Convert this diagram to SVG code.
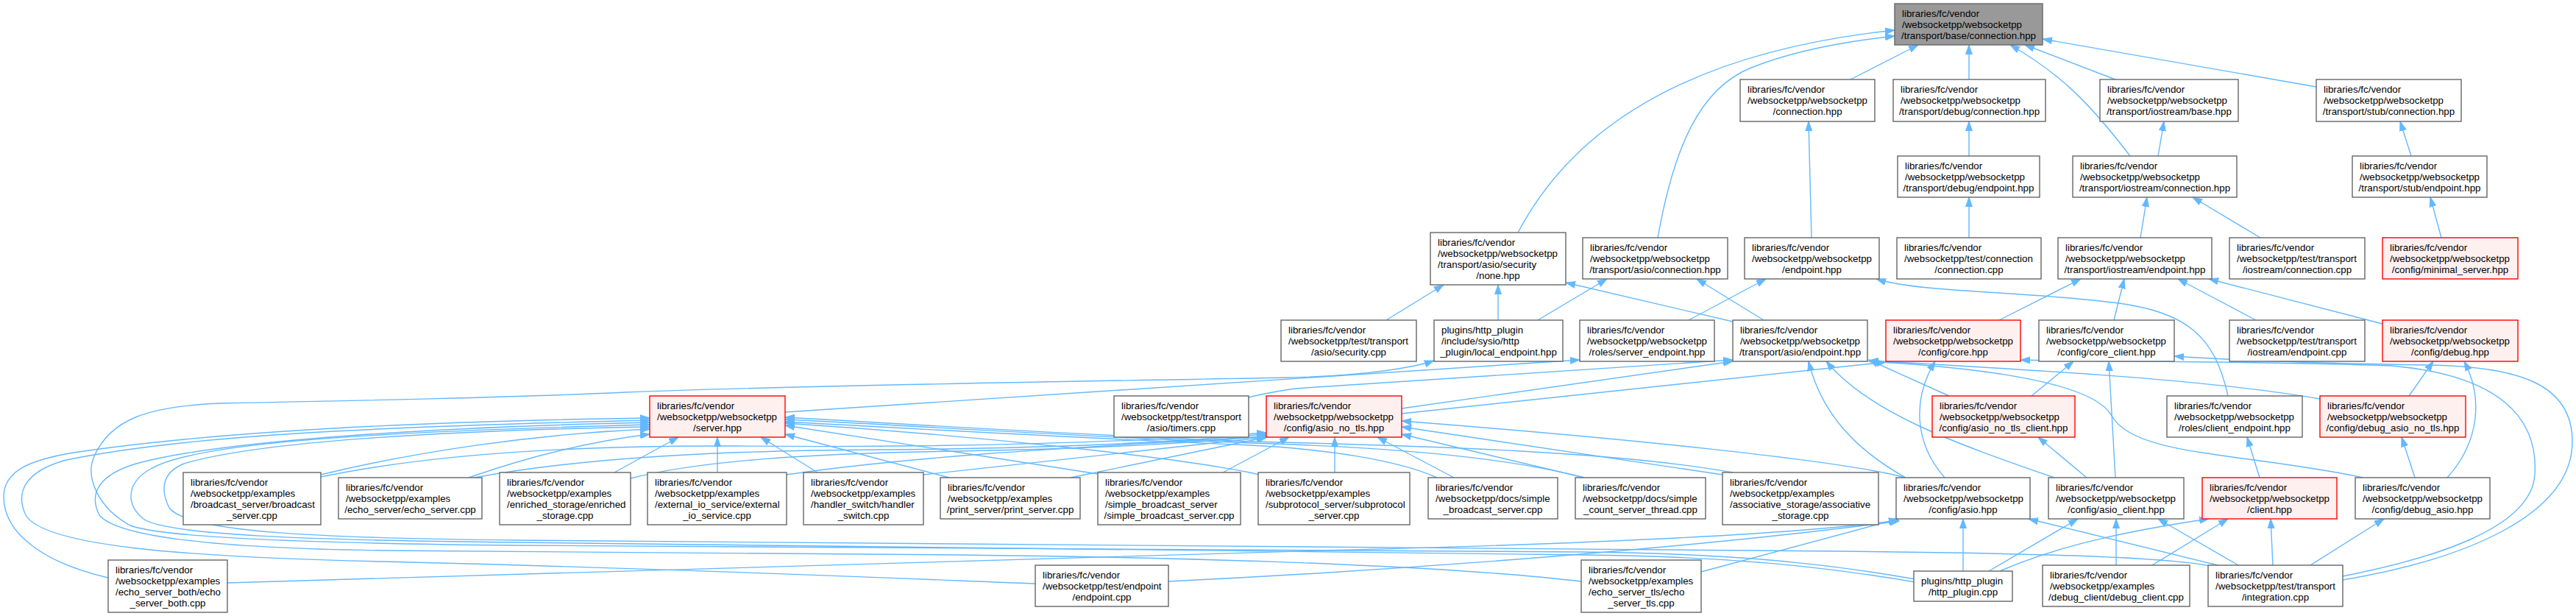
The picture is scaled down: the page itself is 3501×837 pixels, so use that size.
<svg xmlns="http://www.w3.org/2000/svg" width="3501" height="837" viewBox="0 0 3501 837">
<style>
.node rect{fill:#fff;stroke:#666;stroke-width:1.4}
.node.red rect{fill:#fff0f0;stroke:#f00}
.node.root rect{fill:#999;stroke:#666}
.node text{font-family:"Liberation Sans",Arial,Helvetica,sans-serif;font-size:13.33px;fill:#000}
.c{text-anchor:middle}
.edges path{fill:none;stroke:#63b8ff;stroke-width:1.4;marker-end:url(#ah)}
</style>
<defs>
<marker id="ah" markerUnits="userSpaceOnUse" markerWidth="14" markerHeight="10" viewBox="0 0 14 10" refX="13" refY="5" orient="auto"><path d="M0,0.5 L13,5 L0,9.5 z" fill="#63b8ff" stroke="#63b8ff" stroke-width="1"/></marker>
</defs>
<rect width="3501" height="837" fill="#fff"/>
<g class="edges">
<path d="M2063,316 C2140,170 2300,70 2575,41"/>
<path d="M2253,323 C2275,200 2310,120 2380,92 C2440,68 2510,56 2575,49"/>
<path d="M2515,108 L2607,61"/>
<path d="M2676,108 L2676,61"/>
<path d="M2875,108 L2752,61"/>
<path d="M2895,212 C2840,140 2800,100 2732,61"/>
<path d="M3148,118 L2776,53"/>
<path d="M2462,323 L2458,165"/>
<path d="M2676,212 L2676,165"/>
<path d="M2933,212 L2941,165"/>
<path d="M3277,212 L3262,165"/>
<path d="M2676,323 L2676,268"/>
<path d="M2909,323 L2918,268"/>
<path d="M3072,323 L2980,268"/>
<path d="M3318,323 L3303,268"/>
<path d="M1884,435 L1962,387"/>
<path d="M2036,435 L2036,387"/>
<path d="M2090,435 L2184,379"/>
<path d="M2355,437 L2128,384"/>
<path d="M2397,435 L2306,379"/>
<path d="M2295,435 L2400,379"/>
<path d="M3028,538 C3010,455 2970,425 2880,412 C2750,395 2610,398 2550,379"/>
<path d="M2717,435 L2828,379"/>
<path d="M2873,435 L2887,379"/>
<path d="M3066,435 L2960,379"/>
<path d="M3238,440 L3002,379"/>
<path d="M1067,560 C1500,530 1900,505 2147,489"/>
<path d="M1697,540 C1720,534 1740,531 1760,528 L2355,489"/>
<path d="M1905,555 L2355,491"/>
<path d="M1905,562 C2200,532 2450,505 2563,492"/>
<path d="M2590,649 C2520,610 2475,560 2458,491"/>
<path d="M2792,649 C2650,600 2540,560 2482,491"/>
<path d="M2643,649 C2600,600 2600,540 2630,491"/>
<path d="M2649,538 L2540,489"/>
<path d="M2761,538 L2818,491"/>
<path d="M3153,542 C3000,515 2750,502 2540,490"/>
<path d="M3212,649 C3050,615 2900,620 2870,565 C2845,520 2700,500 2540,491"/>
<path d="M3274,538 L3307,491"/>
<path d="M3326,649 C3370,600 3375,540 3349,491"/>
<path d="M3282,649 L3264,594"/>
<path d="M3071,649 L3054,594"/>
<path d="M2836,649 L2770,594"/>
<path d="M2875,649 L2866,491"/>
<path d="M3184,783 C3300,760 3440,720 3445,645 C3450,570 3400,510 3250,497 C3050,490 2850,492 2746,489"/>
<path d="M3184,788 C3350,760 3496,700 3496,600 C3496,520 3420,498 3300,496 C3150,494 3050,490 2955,484"/>
<path d="M2668,776 L2668,705"/>
<path d="M2703,776 L2824,705"/>
<path d="M2718,776 C2800,740 2900,720 3002,705"/>
<path d="M2876,768 L2876,705"/>
<path d="M2925,768 L3028,705"/>
<path d="M3014,768 L2757,705"/>
<path d="M3042,768 L2933,705"/>
<path d="M3089,768 L3086,705"/>
<path d="M3140,768 L3240,705"/>
<path d="M2312,777 L2580,705"/>
<path d="M309,792 C900,775 1400,760 1800,748 C2200,738 2450,725 2580,707"/>
<path d="M1588,790 C1900,775 2300,745 2581,708"/>
<path d="M147,785 C60,765 5,725 5,675 C5,640 40,625 100,615 C300,585 600,572 883,568"/>
<path d="M1407,793 C1200,785 900,772 520,763 C250,757 60,742 35,700 C20,668 35,640 90,625 C250,592 500,580 883,571"/>
<path d="M2149,790 C2000,772 1700,758 1300,754 L520,748 C300,745 160,730 135,700 C120,670 135,645 185,630 C300,598 600,580 883,574"/>
<path d="M2603,787 C2480,765 2350,752 2150,750 L700,741 C400,738 210,730 175,713 C135,690 115,650 128,620 C150,570 200,552 300,548 C500,544 700,540 850,533 C1100,523 1500,518 1750,513 C1850,511 1920,500 1949,490"/>
<path d="M2603,791 C2480,770 2350,756 2150,754 L700,737 C420,734 225,727 195,705 C170,685 172,655 205,637 C260,605 450,588 883,577"/>
<path d="M3003,769 C2950,758 2800,752 2500,749 L700,734 C440,731 255,724 230,690 C215,660 225,640 250,630 C350,600 600,585 883,580"/>
<path d="M436,645 C560,615 720,590 883,583"/>
<path d="M436,648 C600,614 800,605 1000,606 C1300,609 1550,600 1721,588"/>
<path d="M637,649 C720,620 800,600 883,590"/>
<path d="M645,649 C800,620 1000,612 1200,611 C1450,609 1600,600 1721,590"/>
<path d="M835,642 L922,594"/>
<path d="M857,650 C950,626 1100,616 1300,613 C1500,610 1650,600 1721,592"/>
<path d="M975,642 L975,594"/>
<path d="M1069,645 C1250,618 1500,606 1721,593"/>
<path d="M1111,642 L1034,594"/>
<path d="M1255,645 L1721,594"/>
<path d="M1290,649 L1067,590"/>
<path d="M1455,649 L1722,594"/>
<path d="M1492,644 L1067,578"/>
<path d="M1662,642 L1752,594"/>
<path d="M1712,645 C1600,620 1300,590 1067,575"/>
<path d="M1814,642 L1814,594"/>
<path d="M1953,649 C1900,625 1800,610 1700,605 C1400,592 1200,580 1067,573"/>
<path d="M1976,649 L1872,594"/>
<path d="M2153,649 C2050,622 1900,608 1700,602 C1400,590 1200,576 1067,570"/>
<path d="M2153,649 L1905,590"/>
<path d="M2355,642 C2200,614 1950,606 1700,600 C1400,588 1200,574 1067,567"/>
<path d="M2341,645 L1905,580"/>
<path d="M2590,649 C2500,625 2200,595 1905,572"/>
</g>
<g id="n0" class="node root"><rect x="2575" y="5" width="201" height="56"/><text><tspan x="2585" y="23">libraries/fc/vendor</tspan><tspan x="2585" y="38">/websocketpp/websocketpp</tspan><tspan class="c" x="2675.5" y="53">/transport/base/connection.hpp</tspan></text></g>
<g id="n1" class="node"><rect x="2365" y="108" width="183" height="57"/><text><tspan x="2375" y="126">libraries/fc/vendor</tspan><tspan x="2375" y="141">/websocketpp/websocketpp</tspan><tspan class="c" x="2456.5" y="156">/connection.hpp</tspan></text></g>
<g id="n2" class="node"><rect x="2573" y="108" width="207" height="57"/><text><tspan x="2583" y="126">libraries/fc/vendor</tspan><tspan x="2583" y="141">/websocketpp/websocketpp</tspan><tspan class="c" x="2676.5" y="156">/transport/debug/connection.hpp</tspan></text></g>
<g id="n3" class="node"><rect x="2854" y="108" width="188" height="57"/><text><tspan x="2864" y="126">libraries/fc/vendor</tspan><tspan x="2864" y="141">/websocketpp/websocketpp</tspan><tspan class="c" x="2948" y="156">/transport/iostream/base.hpp</tspan></text></g>
<g id="n4" class="node"><rect x="3148" y="108" width="197" height="57"/><text><tspan x="3158" y="126">libraries/fc/vendor</tspan><tspan x="3158" y="141">/websocketpp/websocketpp</tspan><tspan class="c" x="3246.5" y="156">/transport/stub/connection.hpp</tspan></text></g>
<g id="n5" class="node"><rect x="2579" y="212" width="193" height="56"/><text><tspan x="2589" y="230">libraries/fc/vendor</tspan><tspan x="2589" y="245">/websocketpp/websocketpp</tspan><tspan class="c" x="2675.5" y="260">/transport/debug/endpoint.hpp</tspan></text></g>
<g id="n6" class="node"><rect x="2817" y="212" width="223" height="56"/><text><tspan x="2827" y="230">libraries/fc/vendor</tspan><tspan x="2827" y="245">/websocketpp/websocketpp</tspan><tspan class="c" x="2928.5" y="260">/transport/iostream/connection.hpp</tspan></text></g>
<g id="n7" class="node"><rect x="3197" y="212" width="183" height="56"/><text><tspan x="3207" y="230">libraries/fc/vendor</tspan><tspan x="3207" y="245">/websocketpp/websocketpp</tspan><tspan class="c" x="3288.5" y="260">/transport/stub/endpoint.hpp</tspan></text></g>
<g id="n8" class="node"><rect x="1944" y="316" width="184" height="71"/><text><tspan x="1954" y="334">libraries/fc/vendor</tspan><tspan x="1954" y="349">/websocketpp/websocketpp</tspan><tspan x="1954" y="364">/transport/asio/security</tspan><tspan class="c" x="2036" y="379">/none.hpp</tspan></text></g>
<g id="n9" class="node"><rect x="2151" y="323" width="197" height="56"/><text><tspan x="2161" y="341">libraries/fc/vendor</tspan><tspan x="2161" y="356">/websocketpp/websocketpp</tspan><tspan class="c" x="2249.5" y="371">/transport/asio/connection.hpp</tspan></text></g>
<g id="n10" class="node"><rect x="2371" y="323" width="183" height="56"/><text><tspan x="2381" y="341">libraries/fc/vendor</tspan><tspan x="2381" y="356">/websocketpp/websocketpp</tspan><tspan class="c" x="2462.5" y="371">/endpoint.hpp</tspan></text></g>
<g id="n11" class="node"><rect x="2578" y="323" width="196" height="56"/><text><tspan x="2588" y="341">libraries/fc/vendor</tspan><tspan x="2588" y="356">/websocketpp/test/connection</tspan><tspan class="c" x="2676" y="371">/connection.cpp</tspan></text></g>
<g id="n12" class="node"><rect x="2797" y="323" width="209" height="56"/><text><tspan x="2807" y="341">libraries/fc/vendor</tspan><tspan x="2807" y="356">/websocketpp/websocketpp</tspan><tspan class="c" x="2901.5" y="371">/transport/iostream/endpoint.hpp</tspan></text></g>
<g id="n13" class="node"><rect x="3030" y="323" width="184" height="56"/><text><tspan x="3040" y="341">libraries/fc/vendor</tspan><tspan x="3040" y="356">/websocketpp/test/transport</tspan><tspan class="c" x="3122" y="371">/iostream/connection.cpp</tspan></text></g>
<g id="n14" class="node red"><rect x="3238" y="323" width="184" height="56"/><text><tspan x="3248" y="341">libraries/fc/vendor</tspan><tspan x="3248" y="356">/websocketpp/websocketpp</tspan><tspan class="c" x="3330" y="371">/config/minimal_server.hpp</tspan></text></g>
<g id="n15" class="node"><rect x="1741" y="435" width="184" height="56"/><text><tspan x="1751" y="453">libraries/fc/vendor</tspan><tspan x="1751" y="468">/websocketpp/test/transport</tspan><tspan class="c" x="1833" y="483">/asio/security.cpp</tspan></text></g>
<g id="n16" class="node"><rect x="1949" y="435" width="175" height="56"/><text><tspan x="1959" y="453">plugins/http_plugin</tspan><tspan x="1959" y="468">/include/sysio/http</tspan><tspan class="c" x="2036.5" y="483">_plugin/local_endpoint.hpp</tspan></text></g>
<g id="n17" class="node"><rect x="2147" y="435" width="183" height="56"/><text><tspan x="2157" y="453">libraries/fc/vendor</tspan><tspan x="2157" y="468">/websocketpp/websocketpp</tspan><tspan class="c" x="2238.5" y="483">/roles/server_endpoint.hpp</tspan></text></g>
<g id="n18" class="node"><rect x="2355" y="435" width="183" height="56"/><text><tspan x="2365" y="453">libraries/fc/vendor</tspan><tspan x="2365" y="468">/websocketpp/websocketpp</tspan><tspan class="c" x="2446.5" y="483">/transport/asio/endpoint.hpp</tspan></text></g>
<g id="n19" class="node red"><rect x="2563" y="435" width="183" height="56"/><text><tspan x="2573" y="453">libraries/fc/vendor</tspan><tspan x="2573" y="468">/websocketpp/websocketpp</tspan><tspan class="c" x="2654.5" y="483">/config/core.hpp</tspan></text></g>
<g id="n20" class="node"><rect x="2771" y="435" width="184" height="56"/><text><tspan x="2781" y="453">libraries/fc/vendor</tspan><tspan x="2781" y="468">/websocketpp/websocketpp</tspan><tspan class="c" x="2863" y="483">/config/core_client.hpp</tspan></text></g>
<g id="n21" class="node"><rect x="3030" y="435" width="184" height="56"/><text><tspan x="3040" y="453">libraries/fc/vendor</tspan><tspan x="3040" y="468">/websocketpp/test/transport</tspan><tspan class="c" x="3122" y="483">/iostream/endpoint.cpp</tspan></text></g>
<g id="n22" class="node red"><rect x="3238" y="435" width="184" height="56"/><text><tspan x="3248" y="453">libraries/fc/vendor</tspan><tspan x="3248" y="468">/websocketpp/websocketpp</tspan><tspan class="c" x="3330" y="483">/config/debug.hpp</tspan></text></g>
<g id="n23" class="node red"><rect x="883" y="538" width="184" height="56"/><text><tspan x="893" y="556">libraries/fc/vendor</tspan><tspan x="893" y="571">/websocketpp/websocketpp</tspan><tspan class="c" x="975" y="586">/server.hpp</tspan></text></g>
<g id="n24" class="node"><rect x="1514" y="538" width="183" height="56"/><text><tspan x="1524" y="556">libraries/fc/vendor</tspan><tspan x="1524" y="571">/websocketpp/test/transport</tspan><tspan class="c" x="1605.5" y="586">/asio/timers.cpp</tspan></text></g>
<g id="n25" class="node red"><rect x="1721" y="538" width="184" height="56"/><text><tspan x="1731" y="556">libraries/fc/vendor</tspan><tspan x="1731" y="571">/websocketpp/websocketpp</tspan><tspan class="c" x="1813" y="586">/config/asio_no_tls.hpp</tspan></text></g>
<g id="n26" class="node red"><rect x="2626" y="538" width="194" height="56"/><text><tspan x="2636" y="556">libraries/fc/vendor</tspan><tspan x="2636" y="571">/websocketpp/websocketpp</tspan><tspan class="c" x="2723" y="586">/config/asio_no_tls_client.hpp</tspan></text></g>
<g id="n27" class="node"><rect x="2945" y="538" width="184" height="56"/><text><tspan x="2955" y="556">libraries/fc/vendor</tspan><tspan x="2955" y="571">/websocketpp/websocketpp</tspan><tspan class="c" x="3037" y="586">/roles/client_endpoint.hpp</tspan></text></g>
<g id="n28" class="node red"><rect x="3153" y="538" width="198" height="56"/><text><tspan x="3163" y="556">libraries/fc/vendor</tspan><tspan x="3163" y="571">/websocketpp/websocketpp</tspan><tspan class="c" x="3252" y="586">/config/debug_asio_no_tls.hpp</tspan></text></g>
<g id="n29" class="node"><rect x="249" y="642" width="187" height="71"/><text><tspan x="259" y="660">libraries/fc/vendor</tspan><tspan x="259" y="675">/websocketpp/examples</tspan><tspan x="259" y="690">/broadcast_server/broadcast</tspan><tspan class="c" x="342.5" y="705">_server.cpp</tspan></text></g>
<g id="n30" class="node"><rect x="460" y="649" width="195" height="56"/><text><tspan x="470" y="667">libraries/fc/vendor</tspan><tspan x="470" y="682">/websocketpp/examples</tspan><tspan class="c" x="557.5" y="697">/echo_server/echo_server.cpp</tspan></text></g>
<g id="n31" class="node"><rect x="679" y="642" width="178" height="71"/><text><tspan x="689" y="660">libraries/fc/vendor</tspan><tspan x="689" y="675">/websocketpp/examples</tspan><tspan x="689" y="690">/enriched_storage/enriched</tspan><tspan class="c" x="768" y="705">_storage.cpp</tspan></text></g>
<g id="n32" class="node"><rect x="880" y="642" width="189" height="71"/><text><tspan x="890" y="660">libraries/fc/vendor</tspan><tspan x="890" y="675">/websocketpp/examples</tspan><tspan x="890" y="690">/external_io_service/external</tspan><tspan class="c" x="974.5" y="705">_io_service.cpp</tspan></text></g>
<g id="n33" class="node"><rect x="1092" y="642" width="163" height="71"/><text><tspan x="1102" y="660">libraries/fc/vendor</tspan><tspan x="1102" y="675">/websocketpp/examples</tspan><tspan x="1102" y="690">/handler_switch/handler</tspan><tspan class="c" x="1173.5" y="705">_switch.cpp</tspan></text></g>
<g id="n34" class="node"><rect x="1278" y="649" width="190" height="56"/><text><tspan x="1288" y="667">libraries/fc/vendor</tspan><tspan x="1288" y="682">/websocketpp/examples</tspan><tspan class="c" x="1373" y="697">/print_server/print_server.cpp</tspan></text></g>
<g id="n35" class="node"><rect x="1492" y="642" width="194" height="71"/><text><tspan x="1502" y="660">libraries/fc/vendor</tspan><tspan x="1502" y="675">/websocketpp/examples</tspan><tspan x="1502" y="690">/simple_broadcast_server</tspan><tspan class="c" x="1589" y="705">/simple_broadcast_server.cpp</tspan></text></g>
<g id="n36" class="node"><rect x="1710" y="642" width="206" height="71"/><text><tspan x="1720" y="660">libraries/fc/vendor</tspan><tspan x="1720" y="675">/websocketpp/examples</tspan><tspan x="1720" y="690">/subprotocol_server/subprotocol</tspan><tspan class="c" x="1813" y="705">_server.cpp</tspan></text></g>
<g id="n37" class="node"><rect x="1941" y="649" width="176" height="56"/><text><tspan x="1951" y="667">libraries/fc/vendor</tspan><tspan x="1951" y="682">/websocketpp/docs/simple</tspan><tspan class="c" x="2029" y="697">_broadcast_server.cpp</tspan></text></g>
<g id="n38" class="node"><rect x="2141" y="649" width="177" height="56"/><text><tspan x="2151" y="667">libraries/fc/vendor</tspan><tspan x="2151" y="682">/websocketpp/docs/simple</tspan><tspan class="c" x="2229.5" y="697">_count_server_thread.cpp</tspan></text></g>
<g id="n39" class="node"><rect x="2341" y="642" width="212" height="71"/><text><tspan x="2351" y="660">libraries/fc/vendor</tspan><tspan x="2351" y="675">/websocketpp/examples</tspan><tspan x="2351" y="690">/associative_storage/associative</tspan><tspan class="c" x="2447" y="705">_storage.cpp</tspan></text></g>
<g id="n40" class="node"><rect x="2577" y="649" width="182" height="56"/><text><tspan x="2587" y="667">libraries/fc/vendor</tspan><tspan x="2587" y="682">/websocketpp/websocketpp</tspan><tspan class="c" x="2668" y="697">/config/asio.hpp</tspan></text></g>
<g id="n41" class="node"><rect x="2784" y="649" width="184" height="56"/><text><tspan x="2794" y="667">libraries/fc/vendor</tspan><tspan x="2794" y="682">/websocketpp/websocketpp</tspan><tspan class="c" x="2876" y="697">/config/asio_client.hpp</tspan></text></g>
<g id="n42" class="node red"><rect x="2993" y="649" width="183" height="56"/><text><tspan x="3003" y="667">libraries/fc/vendor</tspan><tspan x="3003" y="682">/websocketpp/websocketpp</tspan><tspan class="c" x="3084.5" y="697">/client.hpp</tspan></text></g>
<g id="n43" class="node"><rect x="3201" y="649" width="183" height="56"/><text><tspan x="3211" y="667">libraries/fc/vendor</tspan><tspan x="3211" y="682">/websocketpp/websocketpp</tspan><tspan class="c" x="3292.5" y="697">/config/debug_asio.hpp</tspan></text></g>
<g id="n44" class="node"><rect x="147" y="761" width="162" height="71"/><text><tspan x="157" y="779">libraries/fc/vendor</tspan><tspan x="157" y="794">/websocketpp/examples</tspan><tspan x="157" y="809">/echo_server_both/echo</tspan><tspan class="c" x="228" y="824">_server_both.cpp</tspan></text></g>
<g id="n45" class="node"><rect x="1407" y="768" width="181" height="56"/><text><tspan x="1417" y="786">libraries/fc/vendor</tspan><tspan x="1417" y="801">/websocketpp/test/endpoint</tspan><tspan class="c" x="1497.5" y="816">/endpoint.cpp</tspan></text></g>
<g id="n46" class="node"><rect x="2149" y="761" width="163" height="71"/><text><tspan x="2159" y="779">libraries/fc/vendor</tspan><tspan x="2159" y="794">/websocketpp/examples</tspan><tspan x="2159" y="809">/echo_server_tls/echo</tspan><tspan class="c" x="2230.5" y="824">_server_tls.cpp</tspan></text></g>
<g id="n47" class="node"><rect x="2601" y="776" width="134" height="41"/><text><tspan x="2611" y="794">plugins/http_plugin</tspan><tspan class="c" x="2668" y="809">/http_plugin.cpp</tspan></text></g>
<g id="n48" class="node"><rect x="2776" y="768" width="200" height="56"/><text><tspan x="2786" y="786">libraries/fc/vendor</tspan><tspan x="2786" y="801">/websocketpp/examples</tspan><tspan class="c" x="2876" y="816">/debug_client/debug_client.cpp</tspan></text></g>
<g id="n49" class="node"><rect x="3001" y="768" width="183" height="56"/><text><tspan x="3011" y="786">libraries/fc/vendor</tspan><tspan x="3011" y="801">/websocketpp/test/transport</tspan><tspan class="c" x="3092.5" y="816">/integration.cpp</tspan></text></g>
</svg>
